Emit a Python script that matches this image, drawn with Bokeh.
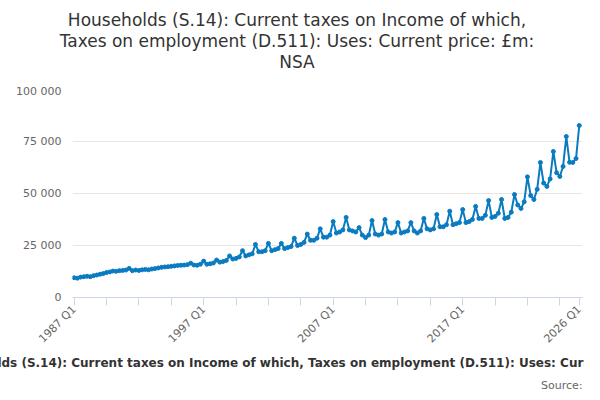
from bokeh.plotting import figure
from bokeh.models import FixedTicker, Title, Range1d, Div
from bokeh.layouts import column
from bokeh.embed import file_html
from bokeh.resources import INLINE

years = list(range(1987, 2026))
q_values = [
    9500, 9300, 9800, 10000,
    10200, 10000, 10500, 10800,
    11200, 11500, 12000, 12300,
    12700, 12600, 12900, 13000,
    13200, 14000, 12900, 13200,
    13000, 13300, 13500, 13300,
    13700, 13900, 14200, 14500,
    14700, 14800, 15000, 15200,
    15400, 15500, 15600, 15800,
    16500, 15600, 15500, 16000,
    17500, 16000, 16200, 16600,
    18000, 17000, 17300, 17800,
    20000, 18500, 18800, 19500,
    22500, 20000, 20500, 21000,
    25500, 22000, 22000, 22500,
    26000, 22500, 23000, 23500,
    26000, 23500, 24000, 24500,
    28500, 25000, 25500, 26500,
    30500, 27500, 27500, 28500,
    33000, 29000, 29000, 30000,
    36500, 31000, 31500, 32500,
    38500, 32500, 32000, 31500,
    33600, 30000, 28800, 30000,
    37000, 30500, 30000, 30500,
    37500, 31500, 31000, 31500,
    36000, 31000, 31500, 32000,
    36000, 32000, 31000, 32000,
    38000, 33000, 32500, 33000,
    39900, 34000, 34000, 35000,
    41500, 35000, 35500, 36000,
    42300, 36000, 36500, 37500,
    43800, 38000, 38000, 39500,
    46600, 38500, 39000, 40500,
    47100, 38000, 38500, 41000,
    49500, 44500, 42800, 46000,
    58000, 49000, 47100, 52000,
    64900, 55000, 53400, 57000,
    70200, 60000, 58200, 63000,
    77400, 65000, 64900, 66800,
    82700,
]
labels = [f"{y} Q{q}" for y in years for q in range(1, 5)] + ["2026 Q1"]
x = list(range(len(q_values)))

x_ticks = list(range(0, 151, 10)) + [156]
x_tick_labels = {t: "" for t in x_ticks}
for t in (0, 40, 80, 120, 156):
    x_tick_labels[t] = labels[t]
y_ticks = [0, 25000, 50000, 75000, 100000]
y_tick_labels = {t: f"{t:,}".replace(",", " ") for t in y_ticks}

title = Div(text="Households (S.14): Current taxes on Income of which,<br>Taxes on employment (D.511): Uses: Current price: £m:<br>NSA",
            width=584, height=74,
            styles={"text-align": "center", "font-family": "DejaVu Sans", "font-size": "17px",
                    "line-height": "21px", "color": "#333333", "width": "584px", "padding-top": "5px"})

p = figure(frame_width=510, frame_height=208, output_backend="svg", toolbar_location=None,
           x_range=Range1d(-0.5, 157), y_range=Range1d(0, 100000),
           min_border_left=72, min_border_right=2, min_border_top=5, min_border_bottom=0)
p.title.visible = False
p.add_layout(Title(text="Households (S.14): Current taxes on Income of which, Taxes on employment (D.511): Uses: Current price: £m: NSA",
                   align="center", text_font_size="12px", text_font="DejaVu Sans",
                   text_font_style="bold", text_color="#333333", standoff=0), "below")
p.add_layout(Title(text="Source:", align="right", text_font_size="11px",
                   text_font="DejaVu Sans", text_font_style="normal",
                   text_color="#666666", standoff=14), "below")

p.line(x, q_values, line_color="#0a7bc1", line_width=2)
p.scatter(x, q_values, size=4, color="#0a7bc1")

p.xaxis.ticker = FixedTicker(ticks=x_ticks)
p.xaxis.major_label_overrides = x_tick_labels
p.xaxis.major_label_orientation = 0.785
p.xaxis.major_label_standoff = 2
p.xaxis.axis_line_color = "#ccd6eb"
p.xaxis.major_tick_line_color = "#ccd6eb"
p.xaxis.major_tick_in = 0
p.xaxis.major_tick_out = 8
p.xaxis.minor_tick_line_color = None
p.xaxis.major_label_text_font_size = "11px"
p.xaxis.major_label_text_color = "#666666"
p.xaxis.major_label_text_font = "DejaVu Sans"

p.yaxis.ticker = FixedTicker(ticks=y_ticks)
p.yaxis.major_label_overrides = y_tick_labels
p.yaxis.axis_line_color = None
p.yaxis.major_tick_line_color = None
p.yaxis.minor_tick_line_color = None
p.yaxis.major_label_text_font_size = "11px"
p.yaxis.major_label_text_color = "#666666"
p.yaxis.major_label_text_font = "DejaVu Sans"

p.xgrid.grid_line_color = None
p.ygrid.grid_line_color = "#e6e6e6"
p.outline_line_color = None

layout = column(title, p, spacing=0)
open("out.html", "w").write(file_html(layout, INLINE))
